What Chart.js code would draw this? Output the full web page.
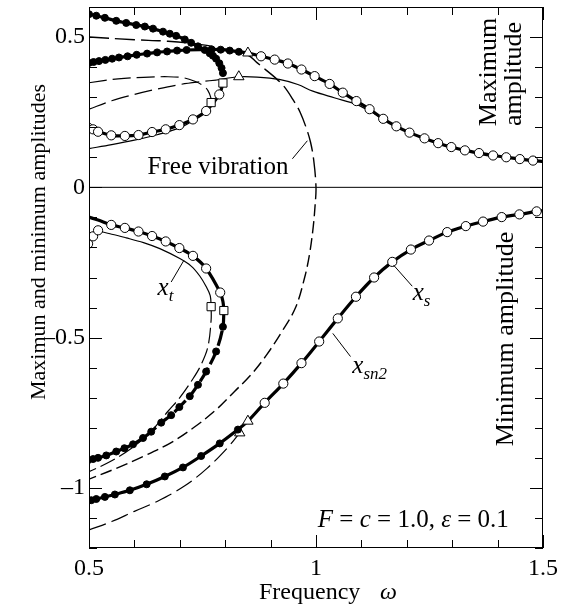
<!DOCTYPE html>
<html><head><meta charset="utf-8">
<script src="https://cdn.jsdelivr.net/npm/chart.js@4.4.1/dist/chart.umd.min.js"></script>
<style>html,body{margin:0;padding:0;background:#fff;}canvas{display:block;}</style>
</head><body>
<canvas id="c" width="568" height="614"></canvas>
<script>
// ---------- axis ticks ----------
const xTickValues = [0.5, 1, 1.5];
const yTickValues = [-1, -0.5, 0, 0.5];

// ---------- maximum amplitude (upper half) ----------
const maxTopDotsX = [0.500,0.516,0.535,0.560,0.582,0.604,0.623,0.641,0.663,0.678,0.692,0.711,0.725,0.740,0.755,0.766,0.773,0.780,0.787,0.792,0.795];
const maxTopDotsY = [0.576,0.571,0.564,0.554,0.547,0.540,0.535,0.528,0.518,0.511,0.504,0.492,0.481,0.469,0.457,0.446,0.438,0.428,0.413,0.397,0.380];

const maxMidDotsX = [0.500,0.510,0.522,0.536,0.551,0.566,0.585,0.605,0.628,0.650,0.672,0.694,0.715,0.770,0.790,0.810,0.830];
const maxMidDotsY = [0.414,0.417,0.420,0.424,0.428,0.432,0.436,0.441,0.445,0.449,0.452,0.455,0.457,0.459,0.458,0.455,0.451];

const maxStableX = [0.879,0.909,0.938,0.968,0.997,1.030,1.059,1.089,1.118,1.148,1.177,1.206,1.239,1.269,1.298,1.328,1.359,1.390,1.419,1.449,1.478];
const maxStableY = [0.436,0.425,0.412,0.392,0.370,0.344,0.315,0.287,0.260,0.228,0.203,0.182,0.163,0.147,0.134,0.123,0.114,0.106,0.100,0.094,0.089];

const maxLoopX = [0.498,0.509,0.520,0.549,0.579,0.609,0.639,0.669,0.699,0.729,0.758,0.787];
const maxLoopY = [0.199,0.193,0.185,0.173,0.171,0.174,0.184,0.193,0.207,0.226,0.254,0.309];

const maxSquaresX = [0.769,0.795];
const maxSquaresY = [0.282,0.347];
const maxTrianglesX = [0.850,0.830];
const maxTrianglesY = [0.447,0.368];

const maxThinX = [0.500,0.550,0.600,0.650,0.700,0.730,0.760,0.785,0.795];
const maxThinY = [0.129,0.142,0.157,0.175,0.198,0.222,0.256,0.305,0.345];

const maxDashAX = [0.500,0.564,0.620,0.674,0.710,0.733,0.752,0.762,0.768,0.769];
const maxDashAY = [0.348,0.361,0.366,0.368,0.364,0.353,0.338,0.322,0.300,0.282];

const maxDashBX = [0.500,0.550,0.600,0.650,0.700,0.750,0.780];
const maxDashBY = [0.260,0.288,0.309,0.327,0.342,0.352,0.357];

const maxSolidBX = [0.780,0.830,0.870,0.919,0.960,0.993,1.040,1.089,1.120,1.148,1.180];
const maxSolidBY = [0.357,0.368,0.367,0.359,0.342,0.320,0.298,0.276,0.252,0.228,0.200];

// ---------- free vibration (backbone) ----------
const freeVibX = [0.500,0.600,0.674,0.747,0.800,0.850,0.870,0.890,0.910,0.930,0.950,0.965,0.978,0.988,0.995,1.000,
                  0.998,0.994,0.986,0.975,0.955,0.925,0.890,0.856,0.820,0.780,0.730,0.680,0.620,0.560,0.500];
const freeVibY = [0.500,0.491,0.486,0.475,0.460,0.440,0.415,0.390,0.365,0.335,0.290,0.250,0.200,0.150,0.090,0.000,
                  -0.060,-0.130,-0.220,-0.300,-0.400,-0.480,-0.560,-0.625,-0.680,-0.740,-0.800,-0.850,-0.895,-0.935,-0.971];

// ---------- minimum amplitude (lower half) ----------
const minTransX = [0.549,0.579,0.609,0.639,0.669,0.699,0.729,0.758,0.789];
const minTransY = [-0.125,-0.135,-0.147,-0.162,-0.180,-0.202,-0.228,-0.270,-0.350];

const minUnstDotsX = [0.795,0.780,0.758,0.740,0.722,0.699,0.681,0.659,0.637,0.619,0.597,0.578,0.560,0.538,0.520,0.509,0.498];
const minUnstDotsY = [-0.464,-0.546,-0.613,-0.657,-0.695,-0.731,-0.758,-0.783,-0.813,-0.834,-0.855,-0.868,-0.879,-0.892,-0.900,-0.904,-0.908];

const xtCirclesX = [0.498,0.509,0.520];
const xtCirclesY = [-0.188,-0.163,-0.143];
const xtLineX = [0.498,0.509,0.520,0.550,0.582,0.620,0.656,0.700,0.725,0.744,0.758,0.767,0.769];
const xtLineY = [-0.188,-0.163,-0.148,-0.156,-0.168,-0.184,-0.204,-0.237,-0.262,-0.295,-0.330,-0.360,-0.397];
const xtDashX = [0.769,0.769,0.762,0.747,0.729,0.700,0.674,0.637,0.600,0.550,0.500];
const xtDashY = [-0.397,-0.441,-0.530,-0.590,-0.637,-0.700,-0.745,-0.812,-0.861,-0.910,-0.946];

const minSquaresX = [0.769,0.797];
const minSquaresY = [-0.397,-0.410];

const minMainDotsX = [0.498,0.505,0.516,0.535,0.557,0.590,0.627,0.667,0.707,0.747,0.788,0.828];
const minMainDotsY = [-1.043,-1.041,-1.037,-1.030,-1.022,-1.008,-0.988,-0.962,-0.932,-0.894,-0.852,-0.806];
const minTrianglesX = [0.832,0.850];
const minTrianglesY = [-0.817,-0.778];
const minStableX = [0.887,0.928,0.968,1.007,1.048,1.088,1.128,1.168,1.209,1.249,1.289,1.330,1.368,1.409,1.448,1.486];
const minStableY = [-0.717,-0.653,-0.585,-0.513,-0.436,-0.364,-0.300,-0.248,-0.207,-0.177,-0.149,-0.129,-0.114,-0.099,-0.090,-0.080];

const minLowDashX = [0.500,0.550,0.600,0.650,0.711,0.760,0.806,0.832];
const minLowDashY = [-1.140,-1.112,-1.078,-1.045,-0.993,-0.935,-0.865,-0.817];

// ---------- helpers ----------
const FAM = '"Liberation Serif","Times New Roman",serif';
const THICK = 3.2, THIN = 1.2;
const pts = (xs, ys) => xs.map((x, i) => ({x: x, y: ys[i]}));
function lineDS(xs, ys, w, dash, extra) {
  return Object.assign({data: pts(xs, ys), showLine: true, borderColor: '#000', borderWidth: w,
    borderDash: dash || [], pointRadius: 0, pointHoverRadius: 0, fill: false, tension: 0.35, order: 10}, extra || {});
}
function markDS(xs, ys, style, r, fill) {
  return {data: pts(xs, ys), showLine: false, pointStyle: style, pointRadius: r, pointHoverRadius: r,
    pointBackgroundColor: fill, pointBorderColor: '#000', pointBorderWidth: 1, backgroundColor: fill,
    borderColor: '#000', order: 0};
}

const datasets = [
  // lines
  lineDS([0.5, 1.5], [0, 0], 1, [], {tension: 0}),
  lineDS(maxTopDotsX, maxTopDotsY, THICK),
  lineDS([...maxMidDotsX, 0.850, ...maxStableX, 1.5], [...maxMidDotsY, 0.447, ...maxStableY, 0.086], THICK),
  lineDS([...maxLoopX.slice(2), 0.795], [...maxLoopY.slice(2), 0.347], THICK),
  lineDS(maxThinX, maxThinY, THIN),
  lineDS(maxDashAX, maxDashAY, THIN, [18, 6]),
  lineDS(maxDashBX, maxDashBY, THIN, [18, 6]),
  lineDS(maxSolidBX, maxSolidBY, THIN),
  lineDS(freeVibX, freeVibY, 1.4, [12, 5], {segment: {borderDash: c => (c.p0.parsed.y > 0.001 ? [20, 6] : [12, 5])}}),
  lineDS([0.500, 0.520, ...minTransX, 0.795, 0.797], [-0.099, -0.109, ...minTransY, -0.380, -0.410], THICK),
  lineDS([0.797, ...minUnstDotsX], [-0.410, ...minUnstDotsY], THICK, [16, 4]),
  lineDS(xtLineX, xtLineY, THIN),
  lineDS(xtDashX, xtDashY, THIN, [16, 5]),
  lineDS([...minMainDotsX, 0.850, ...minStableX, 1.5], [...minMainDotsY, -0.778, ...minStableY, -0.077], THICK),
  lineDS(minLowDashX, minLowDashY, THIN, [18, 6]),
  // markers
  markDS(maxTopDotsX, maxTopDotsY, 'circle', 3.5, '#000'),
  markDS(maxMidDotsX, maxMidDotsY, 'circle', 3.5, '#000'),
  markDS(maxStableX, maxStableY, 'circle', 4.6, '#fff'),
  markDS(maxLoopX, maxLoopY, 'circle', 4.6, '#fff'),
  markDS(maxSquaresX, maxSquaresY, 'rect', 5.8, '#fff'),
  markDS(maxTrianglesX, maxTrianglesY, 'triangle', 6, '#fff'),
  markDS(minTransX, minTransY, 'circle', 4.6, '#fff'),
  markDS(minUnstDotsX, minUnstDotsY, 'circle', 3.5, '#000'),
  markDS(xtCirclesX, xtCirclesY, 'circle', 4.6, '#fff'),
  markDS(minSquaresX, minSquaresY, 'rect', 5.8, '#fff'),
  markDS(minMainDotsX, minMainDotsY, 'circle', 3.5, '#000'),
  markDS(minTrianglesX, minTrianglesY, 'triangle', 6, '#fff'),
  markDS(minStableX, minStableY, 'circle', 4.6, '#fff')
];

// ---------- annotations (data coordinates) ----------
const leaders = [
  [0.948, 0.095, 0.981, 0.155],   // Free vibration
  [0.681, -0.315, 0.709, -0.243], // x_t
  [1.171, -0.259, 1.212, -0.329], // x_s
  [1.037, -0.486, 1.076, -0.563]  // x_sn2
];
const notes = [
  {x: 0.629, y: 0.045, parts: [{t: 'Free vibration', s: 25}]},
  {x: 0.651, y: -0.359, parts: [{t: 'x', s: 25, i: 1}, {t: 't', s: 17, i: 1, dy: 6}]},
  {x: 1.213, y: -0.376, parts: [{t: 'x', s: 25, i: 1}, {t: 's', s: 17, i: 1, dy: 6}]},
  {x: 1.080, y: -0.618, parts: [{t: 'x', s: 25, i: 1}, {t: 'sn2', s: 17, i: 1, dy: 6}]},
  {x: 1.004, y: -1.131, parts: [{t: 'F', s: 25, i: 1}, {t: ' = ', s: 25}, {t: 'c', s: 25, i: 1}, {t: ' = 1.0, ', s: 25},
                                 {t: 'ε', s: 25, i: 1}, {t: ' = 0.1', s: 25}]}
];

function rich(ctx, x, y, parts) {
  let cx = x;
  for (const p of parts) {
    ctx.font = (p.i ? 'italic ' : '') + p.s + 'px ' + FAM;
    ctx.fillText(p.t, cx, y + (p.dy || 0));
    cx += ctx.measureText(p.t).width;
  }
}
function vtext(ctx, t, x, y, size) {
  ctx.save();
  ctx.translate(x, y);
  ctx.rotate(-Math.PI / 2);
  ctx.font = size + 'px ' + FAM;
  ctx.textAlign = 'center';
  ctx.textBaseline = 'alphabetic';
  ctx.fillText(t, 0, 0);
  ctx.restore();
}

const decor = {
  id: 'decor',
  afterDraw(chart) {
    const ctx = chart.ctx, a = chart.chartArea, sx = chart.scales.x, sy = chart.scales.y;
    ctx.save();
    ctx.strokeStyle = '#000';
    ctx.fillStyle = '#000';
    ctx.lineWidth = 1;
    ctx.setLineDash([]);
    ctx.strokeRect(a.left + 0.5, a.top + 0.5, a.right - a.left - 1, a.bottom - a.top - 1);
    ctx.beginPath();
    for (let i = 0; i <= 10; i++) {
      const v = Math.round((0.5 + i * 0.1) * 10) / 10;
      const p = Math.round(sx.getPixelForValue(v)) + 0.5;
      const len = xTickValues.includes(v) ? 13 : 8;
      ctx.moveTo(p, a.bottom); ctx.lineTo(p, a.bottom - len);
      ctx.moveTo(p, a.top); ctx.lineTo(p, a.top + len);
    }
    for (let i = 0; i <= 18; i++) {
      const v = Math.round((-1.2 + i * 0.1) * 10) / 10;
      const p = Math.round(sy.getPixelForValue(v)) + 0.5;
      const len = yTickValues.includes(v) ? 13 : 8;
      ctx.moveTo(a.left, p); ctx.lineTo(a.left + len, p);
      ctx.moveTo(a.right, p); ctx.lineTo(a.right - len, p);
    }
    ctx.stroke();
    ctx.beginPath();
    for (const l of leaders) {
      ctx.moveTo(sx.getPixelForValue(l[0]), sy.getPixelForValue(l[1]));
      ctx.lineTo(sx.getPixelForValue(l[2]), sy.getPixelForValue(l[3]));
    }
    ctx.stroke();
    ctx.textAlign = 'left';
    ctx.textBaseline = 'alphabetic';
    for (const n of notes) rich(ctx, sx.getPixelForValue(n.x), sy.getPixelForValue(n.y), n.parts);
    rich(ctx, 259, 599, [{t: 'Frequency', s: 24}]);
    rich(ctx, 380, 599, [{t: 'ω', s: 24, i: 1}]);
    vtext(ctx, 'Maximun and minimum amplitudes', 45, 242, 22);
    vtext(ctx, 'Maximum', 496, 72, 26);
    vtext(ctx, 'amplitude', 521, 74, 26);
    vtext(ctx, 'Minimum amplitude', 513, 339, 26);
    ctx.restore();
  }
};

new Chart(document.getElementById('c'), {
  type: 'scatter',
  data: {datasets: datasets},
  options: {
    responsive: false,
    animation: false,
    devicePixelRatio: 1,
    layout: {padding: {left: 0, top: 5, right: 25, bottom: 0}},
    plugins: {legend: {display: false}, tooltip: {enabled: false}},
    scales: {
      x: {
        type: 'linear', min: 0.5, max: 1.5,
        grid: {display: false, drawTicks: false}, border: {display: false},
        ticks: {color: '#000', font: {family: FAM, size: 24}, padding: 6, maxRotation: 0,
                callback: v => String(v)},
        afterBuildTicks: s => { s.ticks = xTickValues.map(v => ({value: v})); },
        afterFit: s => { s.height = 66; s.paddingLeft = 0; s.paddingRight = 0; }
      },
      y: {
        type: 'linear', min: -1.2, max: 0.6,
        grid: {display: false, drawTicks: false}, border: {display: false},
        ticks: {color: '#000', font: {family: FAM, size: 24}, padding: 4,
                callback: v => (v < 0 ? '\u2013' + String(Math.abs(v)) : String(v))},
        afterBuildTicks: s => { s.ticks = yTickValues.map(v => ({value: v})); },
        afterFit: s => { s.width = 89; s.paddingTop = 0; s.paddingBottom = 0; }
      }
    }
  },
  plugins: [decor]
});
</script>
</body></html>
